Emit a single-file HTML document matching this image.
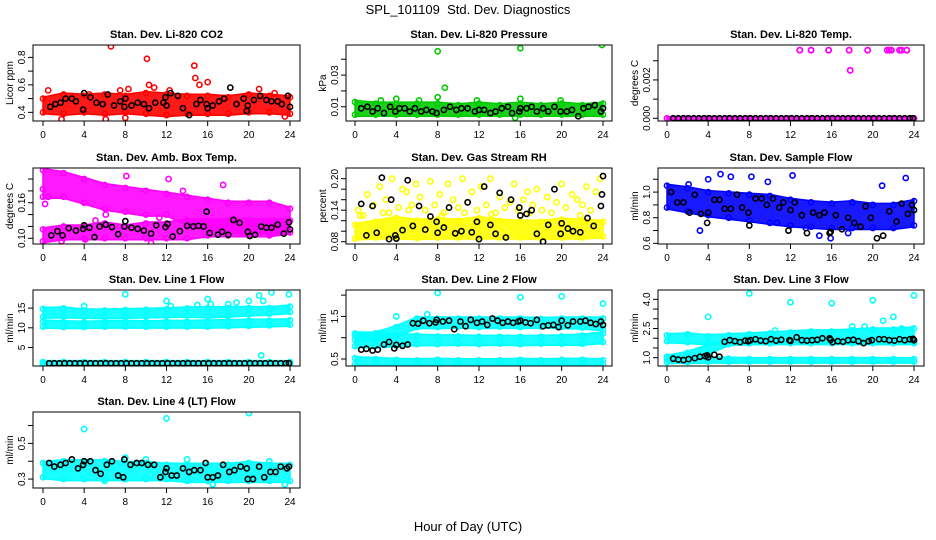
<!DOCTYPE html>
<html><head><meta charset="utf-8"><style>
html,body{margin:0;padding:0;background:#fff;}
svg{display:block;font-family:"Liberation Sans",Arial,sans-serif;}
</style></head><body>
<svg id="chart" width="936" height="540" viewBox="0 0 936 540">
<text x="468" y="14" text-anchor="middle" font-size="13">SPL_101109&#160; Std. Dev. Diagnostics</text>
<text x="468" y="531" text-anchor="middle" font-size="13">Hour of Day (UTC)</text>
</svg>
<script>
const bandHours=[0,2,4,6,8,10,12,14,16,18,20,22,24];
const xTicks=[0,4,8,12,16,20,24];
// P1 CO2
const co2Lo=[0.40,0.39,0.40,0.39,0.40,0.39,0.38,0.39,0.39,0.39,0.40,0.40,0.39];
const co2Hi=[0.50,0.53,0.52,0.53,0.52,0.54,0.53,0.52,0.52,0.51,0.53,0.52,0.51];
const co2OutX=[6.6,10.1,14.7,14.8,15.2,16,10.3,10.8,8.3,0.5,4.5,7.5,1.8,6.1,8,23.5,12.3,21,22.5];
const co2OutY=[0.88,0.79,0.74,0.65,0.60,0.62,0.60,0.58,0.57,0.56,0.53,0.56,0.35,0.35,0.36,0.37,0.56,0.57,0.54];
const co2BlkX=[0.7,1.2,1.7,2.2,2.8,3.2,3.9,4,4.6,5.2,5.8,6.3,6.9,7.5,7.9,8,8.6,9.2,9.8,10.3,10.9,11.7,11.9,12,12.4,13.1,13.6,14.2,14.9,15.3,15.9,16,16.5,17.1,17.6,18.2,18.8,19.5,19.8,19.9,20.5,21.1,21.7,22.2,22.8,23.2,23.8,24];
const co2BlkY=[0.44,0.46,0.47,0.50,0.50,0.48,0.42,0.54,0.51,0.47,0.46,0.53,0.45,0.48,0.44,0.50,0.45,0.47,0.46,0.43,0.47,0.47,0.51,0.45,0.54,0.52,0.43,0.38,0.46,0.49,0.46,0.43,0.45,0.48,0.50,0.58,0.46,0.50,0.41,0.45,0.49,0.52,0.49,0.48,0.48,0.46,0.52,0.44];
// P2 pressure
const prLo=[0.005,0.005,0.005,0.005,0.005,0.005,0.005,0.005,0.005,0.005,0.005,0.005,0.005];
const prHi=[0.013,0.012,0.012,0.012,0.012,0.011,0.012,0.011,0.012,0.011,0.012,0.011,0.012];
const prOutX=[8,16,23.9,8.7,8,16,4,11.8,19.9,15.5,2.5,6.2];
const prOutY=[0.045,0.047,0.049,0.022,0.016,0.015,0.015,0.014,0.014,0.003,0.014,0.014];
const prBlkX=[0.6,1.2,1.7,2.2,2.8,3.4,3.9,4.3,4.8,5.3,5.8,6.4,6.9,7.5,7.9,8.6,9.2,9.8,10.3,10.9,11.6,12,12.5,13.1,13.6,14.2,14.8,15.2,15.9,16,16.6,17.1,17.6,18.2,18.7,19.3,19.9,20.5,21,21.6,22.1,22.6,23.2,23.8,24];
const prBlkY=[0.009,0.010,0.007,0.009,0.006,0.010,0.007,0.009,0.009,0.007,0.009,0.007,0.008,0.007,0.006,0.008,0.010,0.008,0.009,0.009,0.007,0.008,0.008,0.006,0.007,0.009,0.010,0.006,0.007,0.009,0.009,0.010,0.007,0.009,0.007,0.010,0.007,0.007,0.008,0.004,0.009,0.010,0.011,0.007,0.009];
// P3 temp
const tpLo=[0,0,0,0,0,0,0,0,0,0,0,0,0];
const tpHi=[0,0,0,0,0,0,0,0,0,0,0,0,0];
const tpOutX=[12.9,14,15.7,17.7,19.5,21.4,21.6,21.8,22.6,22.8,23.3,17.8];
const tpOutY=[0.00355,0.00355,0.00355,0.00355,0.00355,0.00355,0.00355,0.00355,0.00355,0.00355,0.00355,0.0025];
const tpBlkX=[0.6,1.1,1.6,2.1,2.6,3.1,3.6,4.1,4.6,5.1,5.6,6.1,6.6,7.1,7.6,8.1,8.6,9.1,9.6,10.1,10.6,11.1,11.6,12.1,12.6,13.1,13.6,14.1,14.6,15.1,15.6,16.1,16.6,17.1,17.6,18.1,18.6,19.1,19.6,20.1,20.6,21.1,21.6,22.1,22.6,23.1,23.6,23.9];
const tpBlkY=[0,0,0,0,0,0,0,0,0,0,0,0,0,0,0,0,0,0,0,0,0,0,0,0,0,0,0,0,0,0,0,0,0,0,0,0,0,0,0,0,0,0,0,0,0,0,0,0];
// P4 amb box temp
const ambUpLo=[0.170,0.170,0.160,0.150,0.145,0.140,0.140,0.125,0.115,0.110,0.110,0.110,0.110];
const ambUpHi=[0.215,0.210,0.200,0.190,0.185,0.180,0.175,0.170,0.165,0.160,0.160,0.160,0.150];
const ambLowLo=[0.095,0.100,0.100,0.100,0.100,0.100,0.100,0.100,0.105,0.105,0.105,0.105,0.110];
const ambLowHi=[0.115,0.120,0.120,0.125,0.120,0.125,0.125,0.130,0.130,0.130,0.130,0.130,0.130];
const ambOutX=[0,0.2,0.5,1.8,4.1,5.1,6.1,10.5,11.3,12.2,17.5,8.1,13.6];
const ambOutY=[0.183,0.158,0.170,0.095,0.098,0.130,0.140,0.092,0.135,0.200,0.190,0.205,0.180];
const ambBlkX=[0.8,1.4,1.9,2.5,3.2,3.9,4,4.5,5,5.5,6.1,6.7,7.3,7.9,8,8.6,9.2,9.8,10.5,11,11.9,12.1,12.6,13.3,14,14.6,15.1,15.6,15.9,16.2,17,17.4,18,18.5,19.1,19.9,20.1,20.6,21.2,21.7,22.2,22.8,23.4,23.9,24];
const ambBlkY=[0.105,0.112,0.105,0.117,0.113,0.116,0.122,0.118,0.102,0.120,0.123,0.119,0.107,0.120,0.129,0.118,0.116,0.113,0.108,0.122,0.119,0.124,0.103,0.112,0.121,0.120,0.121,0.120,0.145,0.109,0.106,0.111,0.106,0.131,0.126,0.111,0.104,0.106,0.120,0.118,0.118,0.123,0.108,0.127,0.115];
// P5 RH
const rhLo=[0.086,0.088,0.088,0.087,0.088,0.088,0.088,0.088,0.088,0.087,0.088,0.088,0.090];
const rhHi=[0.112,0.118,0.125,0.120,0.122,0.120,0.125,0.120,0.118,0.118,0.122,0.120,0.118];
const rhOutX=[0.3,0.8,1.2,1.8,2.4,3,3.3,3.6,4.2,4.6,5,5.5,5.9,6.3,6.8,7.3,7.7,8.2,8.6,9,9.5,10,10.4,10.9,11.3,11.8,12.2,12.7,13.1,13.6,14,14.5,15,15.4,15.8,16.3,16.7,17.2,17.6,18.1,18.6,19,19.5,20,20.4,21,21.5,22,22.4,22.8,23.3,23.7,0.5,2.7,5.2,8.4,10.6,13.2,16.9,21.8];
const rhOutY=[0.140,0.130,0.170,0.150,0.185,0.160,0.135,0.200,0.145,0.180,0.175,0.150,0.190,0.165,0.140,0.195,0.150,0.170,0.135,0.190,0.160,0.145,0.200,0.155,0.175,0.140,0.185,0.150,0.200,0.135,0.165,0.145,0.155,0.190,0.140,0.160,0.175,0.150,0.180,0.140,0.165,0.135,0.155,0.190,0.145,0.170,0.160,0.150,0.185,0.140,0.175,0.200,0.130,0.135,0.140,0.130,0.135,0.132,0.135,0.130];
const rhBlkX=[0.6,1.1,1.7,2.1,2.6,3.3,3.5,3.9,4,4.6,5.1,5.6,6.2,6.8,7.3,7.9,8,8.6,9.1,9.7,10.3,10.9,11.3,11.8,12,12.5,13.1,13.6,14,14.6,15.1,15.9,16,16.6,17.1,17.6,18.2,18.7,19.3,19.9,20,20.6,21.1,21.8,22.5,23.1,23.8,23.9,24];
const rhBlkY=[0.152,0.092,0.148,0.097,0.202,0.085,0.160,0.092,0.086,0.102,0.197,0.110,0.148,0.103,0.128,0.118,0.097,0.107,0.145,0.096,0.100,0.155,0.098,0.118,0.085,0.185,0.112,0.095,0.173,0.088,0.160,0.145,0.130,0.133,0.140,0.095,0.080,0.112,0.180,0.095,0.115,0.105,0.100,0.098,0.125,0.110,0.148,0.170,0.205];
// P6 sample flow
const sfLo=[0.88,0.85,0.82,0.80,0.78,0.76,0.74,0.73,0.72,0.72,0.72,0.72,0.74];
const sfHi=[1.05,1.03,1.00,0.99,0.98,0.97,0.94,0.92,0.91,0.92,0.90,0.90,0.93];
const sfOutX=[2.1,4,5.2,6.2,8.2,9.8,12.2,13.5,15.9,20.9,23.2,17.6,14.8,3.2,10.7];
const sfOutY=[1.06,1.1,1.14,1.12,1.12,1.08,1.13,0.72,0.64,1.05,1.11,0.68,0.66,0.70,0.76];
const sfBlkX=[0.4,1,1.6,2.2,2.7,3.3,3.9,4,4.6,5.1,5.6,6.2,6.8,7.3,7.9,8,8.6,9.2,9.7,10.3,10.9,11.3,11.8,12,12.4,13.1,13.6,14.2,14.8,15.3,15.8,15.9,16.4,17,17.6,18.2,18.8,19.3,19.8,20.4,21,21.6,22.3,22.8,23.4,23.8,24];
const sfBlkY=[1.00,0.92,0.92,0.84,0.98,0.83,0.76,0.84,0.94,0.94,0.87,0.87,0.98,0.88,0.84,0.74,0.95,0.95,0.90,0.95,0.88,0.92,0.70,0.86,0.92,0.82,0.68,0.84,0.82,0.84,0.68,0.69,0.82,0.71,0.80,0.76,0.73,0.89,0.80,0.64,0.66,0.85,0.77,0.91,0.83,0.90,0.86];
// P7 line 1
const l1aLo=[0.8,0.8,0.8,0.8,0.8,0.8,0.8,0.8,0.8,0.8,0.8,0.8,0.8];
const l1aHi=[1.3,1.3,1.3,1.3,1.3,1.3,1.3,1.3,1.3,1.3,1.3,1.3,1.3];
const l1bLo=[10.3,10.2,10.2,10.3,10.3,10.3,10.3,10.3,10.3,10.4,10.5,10.6,10.8];
const l1bHi=[11.6,11.4,11.3,11.4,11.5,11.4,11.5,11.5,11.6,11.7,11.8,11.8,11.9];
const l1cLo=[12.8,12.9,12.8,12.7,12.8,12.9,13.0,13.1,12.9,13.1,13.4,13.6,14.0];
const l1cHi=[14.8,14.9,14.4,14.4,14.5,14.6,14.7,14.9,15.0,15.0,15.0,15.0,15.4];
const l1OutX=[8,4,12,12.4,16,16.3,18,18.8,20,21,21.4,22.2,23.9,21.2,15];
const l1OutY=[18.5,15.5,16.8,15.5,17.3,16,16,16.4,16.8,18.2,16.8,19,18.5,3.0,15.8];
const l1BlkX=[0.6,1.1,1.6,2.1,2.6,3.1,3.6,4.1,4.6,5.1,5.6,6.1,6.6,7.1,7.6,8.1,8.6,9.1,9.6,10.1,10.6,11.1,11.6,12.1,12.6,13.1,13.6,14.1,14.6,15.1,15.6,16.1,16.6,17.1,17.6,18.1,18.6,19.1,19.6,20.1,20.6,21.1,21.6,22.1,22.6,23.1,23.6,23.9];
const l1BlkY=[1,1,1,1,1,1,1,1,1,1,1,1,1,1,1,1,1,1,1,1,1,1,1,1,1,1,1,1,1,1,1,1,1,1,1,1,1,1,1,1,1,1,1,1,1,1,1,1];
// P8 line 2
const l2aLo=[0.38,0.38,0.38,0.38,0.38,0.38,0.38,0.38,0.38,0.38,0.38,0.38,0.38];
const l2aHi=[0.52,0.50,0.48,0.47,0.48,0.47,0.47,0.47,0.48,0.47,0.48,0.48,0.47];
const l2bLo=[0.80,0.80,0.82,0.85,0.85,0.86,0.85,0.86,0.85,0.86,0.86,0.86,0.90];
const l2bHi=[1.10,1.10,1.05,1.05,1.03,1.03,1.02,1.02,1.02,1.02,1.03,1.05,1.10];
const l2cLo=[0.95,0.95,1.05,1.25,1.25,1.26,1.25,1.26,1.25,1.26,1.25,1.24,1.20];
const l2cHi=[1.05,1.10,1.25,1.45,1.45,1.45,1.45,1.45,1.45,1.44,1.45,1.45,1.45];
const l2OutX=[8,16,20,24,4,7];
const l2OutY=[2.05,1.95,1.97,1.80,1.50,1.55];
const l2BlkX=[0.6,1.1,1.7,2.2,2.8,3.3,3.8,4,4.6,5.1,5.6,6.1,6.6,7.2,7.8,7.9,8.5,9.1,9.6,10.2,10.7,11.2,11.8,12.3,12.8,13.3,13.8,14.3,14.8,15.3,15.8,16,16.5,17,17.6,18.2,18.7,19.2,19.7,20,20.6,21.1,21.8,22.3,22.8,23.3,23.8,24];
const l2BlkY=[0.72,0.74,0.70,0.72,0.84,0.90,0.75,0.83,0.81,0.84,1.34,1.33,1.40,1.34,1.36,1.42,1.38,1.40,1.20,1.38,1.27,1.42,1.35,1.38,1.30,1.45,1.40,1.35,1.38,1.35,1.38,1.40,1.36,1.34,1.42,1.27,1.29,1.30,1.25,1.40,1.29,1.38,1.38,1.40,1.35,1.32,1.38,1.30];
// P9 line 3
const l3aLo=[0.78,0.78,0.80,0.80,0.80,0.80,0.80,0.80,0.80,0.80,0.80,0.80,0.80];
const l3aHi=[0.95,0.95,0.95,0.95,0.93,0.93,0.93,0.93,0.93,0.93,0.93,0.93,0.93];
const l3bLo=[1.85,1.80,1.75,1.75,1.75,1.75,1.78,1.78,1.78,1.80,1.80,1.80,1.80];
const l3bHi=[2.15,2.20,2.10,2.15,2.20,2.25,2.30,2.35,2.35,2.40,2.45,2.45,2.50];
const l3cLo=[0.95,1.05,1.25,1.70,1.75,1.75,1.75,1.75,1.75,1.75,1.75,1.75,1.75];
const l3cHi=[1.05,1.25,1.60,1.85,1.85,1.85,1.85,1.85,1.85,1.85,1.85,1.85,1.85];
const l3OutX=[8,12,16,20,24,4,22,10.5,18,19.2,21,22.8];
const l3OutY=[4.3,3.85,3.8,3.95,4.2,3.1,3.1,2.4,2.6,2.6,2.9,2.5];
const l3BlkX=[0.6,1.1,1.6,2.1,2.7,3.2,3.7,3.9,4,4.6,5.1,5.6,6.1,6.6,7.1,7.6,7.9,8.1,8.6,9.1,9.6,10.1,10.6,11.1,11.9,12,12.6,13.1,13.6,14.1,14.6,15.1,15.8,15.9,16.1,16.6,17.1,17.6,18.1,18.6,19.1,19.6,19.9,20.6,21.1,21.6,22.1,22.6,23.1,23.6,23.9,24];
const l3BlkY=[0.95,0.90,0.88,0.93,0.98,1.05,1.08,1.12,1.02,1.15,1.05,1.82,1.90,1.85,1.80,1.88,1.85,1.90,1.95,1.88,1.85,1.95,1.88,1.92,1.90,1.86,2.05,1.90,1.88,1.90,1.92,2.00,2.00,1.92,1.80,1.85,1.82,1.90,1.92,1.85,1.75,1.85,1.90,1.95,1.95,1.90,1.88,1.95,1.90,1.95,1.97,1.90];
// P10 line 4
const l4Lo=[0.31,0.30,0.30,0.30,0.30,0.30,0.30,0.29,0.29,0.29,0.29,0.29,0.29];
const l4Hi=[0.39,0.40,0.40,0.40,0.39,0.39,0.38,0.38,0.38,0.38,0.39,0.38,0.38];
const l4OutX=[4,12,20,6,10,14,16.5,22,8,23.5];
const l4OutY=[0.58,0.64,0.67,0.29,0.41,0.41,0.27,0.40,0.42,0.27];
const l4BlkX=[0.6,1.1,1.7,2.2,2.8,3.4,3.9,4,4.6,5.1,5.6,6.2,6.7,7.3,7.8,7.9,8.5,9.1,9.6,10.2,10.8,11.4,11.9,12,12.5,13,13.6,14.2,14.7,15.3,15.8,16,16.5,17,17.5,18.1,18.6,19.2,19.8,19.9,20.4,21,21.5,22.1,22.6,23.1,23.7,23.9];
const l4BlkY=[0.39,0.37,0.38,0.39,0.41,0.36,0.38,0.40,0.40,0.35,0.33,0.38,0.40,0.32,0.31,0.41,0.38,0.39,0.39,0.38,0.38,0.31,0.34,0.36,0.32,0.32,0.36,0.34,0.35,0.35,0.39,0.31,0.31,0.32,0.38,0.34,0.35,0.37,0.36,0.30,0.30,0.37,0.31,0.34,0.34,0.37,0.36,0.37];

const NS="http://www.w3.org/2000/svg";
const svg=document.getElementById('chart');
const cols=[{l:33,r:300,x0:43,x1:290},{l:346,r:612,x0:355,x1:603},{l:658,r:924,x0:667,x1:914}];
const rowTops=[45,168,290,412];
const H=76;
function mk(tag,attrs,parent){const e=document.createElementNS(NS,tag);for(const k in attrs)e.setAttribute(k,attrs[k]);(parent||svg).appendChild(e);return e;}
const panels=[
 {id:'co2',c:0,r:0,title:'Stan. Dev. Li-820 CO2',yl:'Licor ppm',ymin:0.337,ymax:0.89,ticks:[0.4,0.5,0.6,0.7,0.8],labs:{0.4:'0.4',0.6:'0.6',0.8:'0.8'},col:'#ff0000',bands:[[co2Lo,co2Hi]],ox:co2OutX,oy:co2OutY,bx:co2BlkX,by:co2BlkY},
 {id:'pressure',c:1,r:0,title:'Stan. Dev. Li-820 Pressure',yl:'kPa',ymin:0.001,ymax:0.049,ticks:[0.01,0.02,0.03,0.04],labs:{0.01:'0.01',0.03:'0.03'},col:'#00cc00',bands:[[prLo,prHi]],ox:prOutX,oy:prOutY,bx:prBlkX,by:prBlkY},
 {id:'temp',c:2,r:0,title:'Stan. Dev. Li-820 Temp.',yl:'degrees C',ymin:-0.00014,ymax:0.00382,ticks:[0,0.001,0.002,0.003],labs:{0:'0.000',0.002:'0.002'},col:'#ff00ff',bands:[[tpLo,tpHi]],ox:tpOutX,oy:tpOutY,bx:tpBlkX,by:tpBlkY},
 {id:'amb',c:0,r:1,title:'Stan. Dev. Amb. Box Temp.',yl:'degrees C',ymin:0.0904,ymax:0.2186,ticks:[0.10,0.12,0.14,0.16,0.18,0.20],labs:{0.1:'0.10',0.16:'0.16'},col:'#ff00ff',bands:[[ambUpLo,ambUpHi],[ambLowLo,ambLowHi]],ox:ambOutX,oy:ambOutY,bx:ambBlkX,by:ambBlkY},
 {id:'rh',c:1,r:1,title:'Stan. Dev. Gas Stream RH',yl:'percent',ymin:0.0756,ymax:0.2204,ticks:[0.08,0.10,0.12,0.14,0.16,0.18,0.20],labs:{0.08:'0.08',0.14:'0.14',0.2:'0.20'},col:'#ffff00',bands:[[rhLo,rhHi]],ox:rhOutX,oy:rhOutY,bx:rhBlkX,by:rhBlkY},
 {id:'sampleflow',c:2,r:1,title:'Stan. Dev. Sample Flow',yl:'ml/min',ymin:0.595,ymax:1.188,ticks:[0.6,0.7,0.8,0.9,1.0,1.1],labs:{0.6:'0.6',0.8:'0.8',1:'1.0'},col:'#0000ff',bands:[[sfLo,sfHi]],ox:sfOutX,oy:sfOutY,bx:sfBlkX,by:sfBlkY},
 {id:'line1',c:0,r:2,title:'Stan. Dev. Line 1 Flow',yl:'ml/min',ymin:0.3,ymax:19.6,ticks:[5,10,15],labs:{5:'5',10:'10',15:'15'},col:'#00ffff',bands:[[l1aLo,l1aHi],[l1bLo,l1bHi],[l1cLo,l1cHi]],ox:l1OutX,oy:l1OutY,bx:l1BlkX,by:l1BlkY},
 {id:'line2',c:1,r:2,title:'Stan. Dev. Line 2 Flow',yl:'ml/min',ymin:0.336,ymax:2.12,ticks:[0.5,1.0,1.5,2.0],labs:{0.5:'0.5',1.5:'1.5'},col:'#00ffff',bands:[[l2aLo,l2aHi],[l2bLo,l2bHi],[l2cLo,l2cHi]],ox:l2OutX,oy:l2OutY,bx:l2BlkX,by:l2BlkY},
 {id:'line3',c:2,r:2,title:'Stan. Dev. Line 3 Flow',yl:'ml/min',ymin:0.574,ymax:4.48,ticks:[1.0,1.5,2.0,2.5,3.0,3.5,4.0],labs:{1:'1.0',2.5:'2.5',4:'4.0'},col:'#00ffff',bands:[[l3aLo,l3aHi],[l3bLo,l3bHi],[l3cLo,l3cHi]],ox:l3OutX,oy:l3OutY,bx:l3BlkX,by:l3BlkY},
 {id:'line4',c:0,r:3,title:'Stan. Dev. Line 4 (LT) Flow',yl:'ml/min',ymin:0.25,ymax:0.676,ticks:[0.3,0.4,0.5,0.6],labs:{0.3:'0.3',0.5:'0.5'},col:'#00ffff',bands:[[l4Lo,l4Hi]],ox:l4OutX,oy:l4OutY,bx:l4BlkX,by:l4BlkY}
];
panels.forEach(p=>{
 const C=cols[p.c],top=rowTops[p.r],bot=top+H;
 const g=mk('g',{});
 
 
 const xs=h=>C.x0+(C.x1-C.x0)*h/24;
 const ys=v=>bot-(v-p.ymin)/(p.ymax-p.ymin)*H;
 const clip='clip-'+p.id;
 const cp=mk('clipPath',{id:clip},g);mk('rect',{x:C.l,y:top,width:C.r-C.l,height:H},cp);
 const data=mk('g',{'clip-path':'url(#'+clip+')'},g);
 p.bands.forEach((b,bi)=>{
  const [lo,hi]=b;
  let d='';
  bandHours.forEach((h,i)=>{d+=(i?'L':'M')+xs(h).toFixed(1)+' '+(ys(hi[i])-1.5).toFixed(1);});
  for(let i=bandHours.length-1;i>=0;i--)d+='L'+xs(bandHours[i]).toFixed(1)+' '+(ys(lo[i])+1.5).toFixed(1);
  d+='Z';
  const band=mk('path',{d:d,fill:p.col,'fill-opacity':0.9,stroke:p.col,'stroke-width':1.5,'stroke-linejoin':'round'},data);
  
  
  bandHours.forEach((h,i)=>{[lo[i],hi[i]].forEach(v=>{
   const c=mk('circle',{cx:xs(h),cy:ys(v),r:2.6,fill:'none',stroke:p.col,'stroke-width':1.5},data);
   
   
  });});
 });
 const drawPts=(X,Y,col,name)=>X.forEach((x,i)=>{
  const c=mk('circle',{cx:xs(x),cy:ys(Y[i]),r:2.6,fill:'none',stroke:col,'stroke-width':1.6},data);
  
  
 });
 drawPts(p.ox,p.oy,p.col,'scatter-point');
 drawPts(p.bx,p.by,'#000','black-point');
 if(p.id==='temp'){drawPts(p.ox,p.oy,p.col,'scatter-point');}
 const box=mk('rect',{x:C.l,y:top,width:C.r-C.l,height:H,fill:'none',stroke:'#000','stroke-width':1},g);
 
 
 const t=mk('text',{x:(C.l+C.r)/2,y:top-7,'text-anchor':'middle','font-size':11,'font-weight':'bold'},g);
 t.textContent=p.title;
 
 
 xTicks.forEach(h=>{
  const x=xs(h);
  mk('line',{x1:x,x2:x,y1:bot,y2:bot+5,stroke:'#000'},g);
  const l=mk('text',{x:x,y:bot+17,'text-anchor':'middle','font-size':10},g);
  l.textContent=h;
  
  
 });
 p.ticks.forEach(v=>{
  const y=ys(v);
  mk('line',{x1:C.l-5,x2:C.l,y1:y,y2:y,stroke:'#000'},g);
  const key=Object.keys(p.labs).find(k=>Math.abs(parseFloat(k)-v)<1e-9);
  if(key!==undefined){
   const l=mk('text',{x:0,y:0,'text-anchor':'middle','font-size':10,transform:'translate('+(C.l-8)+','+y+') rotate(-90)'},g);
   l.textContent=p.labs[key];
   
   
  }
 });
 const yl=mk('text',{x:0,y:0,'text-anchor':'middle','font-size':10,transform:'translate('+(C.l-20)+','+(top+H/2)+') rotate(-90)'},g);
 yl.textContent=p.yl;
 
 
});
</script>
</body></html>
